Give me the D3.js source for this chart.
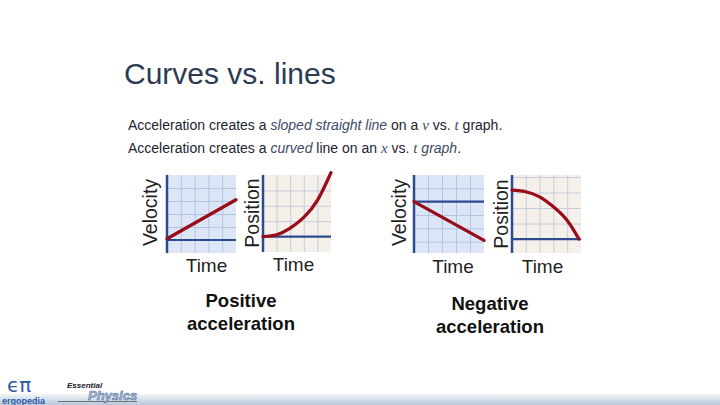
<!DOCTYPE html>
<html>
<head>
<meta charset="utf-8">
<script src="https://cdn.jsdelivr.net/npm/d3@7"></script>
<style>
  html, body { margin: 0; padding: 0; background: #ffffff; }
  svg { display: block; }
</style>
</head>
<body>
<svg id="chart" width="720" height="405"></svg>
<script>
// ---------- data ----------
const titleText = "Curves vs. lines";
const panelNames = ["Velocity", "Position", "Velocity", "Position"];
const xAxisLabel = "Time";
const captions = [["Positive", "acceleration"], ["Negative", "acceleration"]];

// time samples (grid columns)
const timeLine = [0, 5];
const timeCurve = [0, 1, 2, 3, 4, 5];
const timeCurveNeg = [0, 1, 2, 3, 4, 4.85];

// series values
const velPositive = [0.1, 3.1];
const posPositive = [0, 0.12, 0.55, 1.25, 2.35, 4.15];
const velNegative = [0, -2.9];
const posNegative = [3.15, 3.05, 2.72, 2.08, 1.2, 0];

// value domains of each small graph (grid units)
const yDomains = [[-1, 5], [-1, 4], [-3.85, 2], [-0.9, 4.13]];
const xDomain = [0, 5];

// ---------- layout ----------
const svg = d3.select("#chart");
const boxes = [
  {x0: 167, x1: 236, y0: 175, y1: 253, bg: "#dce6f6", grid: "#b4c4e2", lx: 157, ly: 212.5, tx: 206.5, ty: 272},
  {x0: 263, x1: 331, y0: 175, y1: 252, bg: "#f5f0ea", grid: "#c6cddd", lx: 259, ly: 213, tx: 293.5, ty: 271},
  {x0: 414, x1: 484, y0: 175, y1: 253, bg: "#dce6f6", grid: "#b4c4e2", lx: 406, ly: 212.5, tx: 453, ty: 273},
  {x0: 512, x1: 581, y0: 175, y1: 253, bg: "#f5f0ea", grid: "#c6cddd", lx: 508, ly: 214, tx: 542.5, ty: 273}
];
const series = [
  {t: timeLine, v: velPositive, curve: d3.curveLinear},
  {t: timeCurve, v: posPositive, curve: d3.curveNatural},
  {t: timeLine, v: velNegative, curve: d3.curveLinear},
  {t: timeCurveNeg, v: posNegative, curve: d3.curveNatural}
];
const axisColor = "#2c4b8e";
const redColor = "#990c19";
const font = "'Liberation Sans', Arial, Helvetica, sans-serif";

// ---------- title & subtitle ----------
svg.append("text").attr("x", 124).attr("y", 84)
  .attr("font-family", font).attr("font-size", 30).attr("fill", "#2b3b53")
  .text(titleText);

const sub = [
  [["Acceleration creates a ", "n"], ["sloped straight line", "i"], [" on a ", "n"], ["v", "s"], [" vs. ", "n"], ["t", "s"], [" graph.", "n"]],
  [["Acceleration creates a ", "n"], ["curved", "i"], [" line on an ", "n"], ["x", "s"], [" vs. ", "n"], ["t", "s"], [" graph", "i"], [".", "n"]]
];
sub.forEach((parts, i) => {
  const t = svg.append("text").attr("x", 128).attr("y", 130 + i * 22.5)
    .attr("font-family", font).attr("font-size", 14).attr("fill", "#1d2430");
  parts.forEach(([s, k]) => {
    const ts = t.append("tspan").text(s);
    if (k === "i") ts.attr("font-style", "italic").attr("fill", "#3c4b66");
    if (k === "s") ts.attr("font-style", "italic").attr("font-family", "'Liberation Serif', 'Times New Roman', serif")
                      .attr("font-size", 15).attr("fill", "#3c4b66");
  });
});

// ---------- the four small graphs ----------
boxes.forEach((b, i) => {
  const x = d3.scaleLinear().domain(xDomain).range([b.x0, b.x1]);
  const y = d3.scaleLinear().domain(yDomains[i]).range([b.y1, b.y0]);
  const g = svg.append("g");
  g.append("rect").attr("x", b.x0).attr("y", b.y0)
    .attr("width", b.x1 - b.x0).attr("height", b.y1 - b.y0).attr("fill", b.bg);

  // grid via axes with tick lines
  const vTicks = d3.range(1, xDomain[1]);
  g.append("g").attr("transform", `translate(0,${b.y1})`)
    .call(d3.axisTop(x).tickValues(vTicks).tickSize(b.y1 - b.y0).tickFormat(""))
    .call(a => a.select(".domain").remove())
    .call(a => a.selectAll("line").attr("stroke", b.grid).attr("stroke-width", 1));
  const hTicks = d3.range(Math.ceil(yDomains[i][0]), Math.floor(yDomains[i][1]) + 1)
    .filter(v => v !== 0 && y(v) > b.y0 + 2 && y(v) < b.y1 - 2);
  g.append("g").attr("transform", `translate(${b.x0},0)`)
    .call(d3.axisRight(y).tickValues(hTicks).tickSize(b.x1 - b.x0).tickFormat(""))
    .call(a => a.select(".domain").remove())
    .call(a => a.selectAll("line").attr("stroke", b.grid).attr("stroke-width", 1));

  // zero (time) axis
  g.append("line").attr("x1", b.x0).attr("x2", b.x1).attr("y1", y(0)).attr("y2", y(0))
    .attr("stroke", axisColor).attr("stroke-width", 2.2);
  // vertical axis
  g.append("line").attr("x1", b.x0).attr("x2", b.x0).attr("y1", b.y0).attr("y2", b.y1)
    .attr("stroke", axisColor).attr("stroke-width", 2.5);

  // data curve
  const s = series[i];
  const pts = s.t.map((t, k) => [t, s.v[k]]);
  g.append("path").datum(pts)
    .attr("d", d3.line().x(d => x(d[0])).y(d => y(d[1])).curve(s.curve))
    .attr("fill", "none").attr("stroke", redColor).attr("stroke-width", 3.3)
    .attr("stroke-linecap", "round");

  // labels
  svg.append("text").attr("transform", `translate(${b.lx},${b.ly}) rotate(-90)`)
    .attr("text-anchor", "middle").attr("font-family", font).attr("font-size", 19.5)
    .attr("fill", "#1f1f1f").text(panelNames[i]);
  svg.append("text").attr("x", b.tx).attr("y", b.ty)
    .attr("text-anchor", "middle").attr("font-family", font).attr("font-size", 19)
    .attr("fill", "#1f1f1f").text(xAxisLabel);
});

// ---------- captions ----------
const capPos = [{x: 241, y: 307}, {x: 490, y: 310}];
captions.forEach((lines, i) => {
  lines.forEach((l, k) => {
    svg.append("text").attr("x", capPos[i].x).attr("y", capPos[i].y + k * 23)
      .attr("text-anchor", "middle").attr("font-family", font).attr("font-weight", "bold")
      .attr("font-size", 18.5).attr("fill", "#111").text(l);
  });
});

// ---------- footer ----------
const defs = svg.append("defs");
const grad = defs.append("linearGradient").attr("id", "band").attr("x1", 0).attr("x2", 0).attr("y1", 0).attr("y2", 1);
grad.append("stop").attr("offset", "0%").attr("stop-color", "#f2f5f9");
grad.append("stop").attr("offset", "100%").attr("stop-color", "#b9c7da");
svg.append("rect").attr("x", 0).attr("y", 394).attr("width", 720).attr("height", 11).attr("fill", "url(#band)");
svg.append("line").attr("x1", 58).attr("x2", 137).attr("y1", 401.5).attr("y2", 401.5)
  .attr("stroke", "#555").attr("stroke-width", 0.8);
svg.append("text").attr("x", 7).attr("y", 392).attr("font-family", "'DejaVu Sans', sans-serif")
  .attr("font-size", 20).attr("fill", "#2d5ca6").text("ϵπ");
svg.append("text").attr("x", 2).attr("y", 404).attr("font-family", font).attr("font-weight", "bold")
  .attr("font-size", 9).attr("fill", "#2d5ca6").text("ergopedia");
svg.append("text").attr("x", 67).attr("y", 388).attr("font-family", font).attr("font-weight", "bold")
  .attr("font-style", "italic").attr("font-size", 8).attr("fill", "#222").text("Essential");
svg.append("text").attr("x", 88).attr("y", 400).attr("font-family", font).attr("font-weight", "bold")
  .attr("font-style", "italic").attr("font-size", 13).attr("fill", "#a9b9d2")
  .attr("stroke", "#4f6d9c").attr("stroke-width", 0.5).text("Physics");
</script>
</body>
</html>
